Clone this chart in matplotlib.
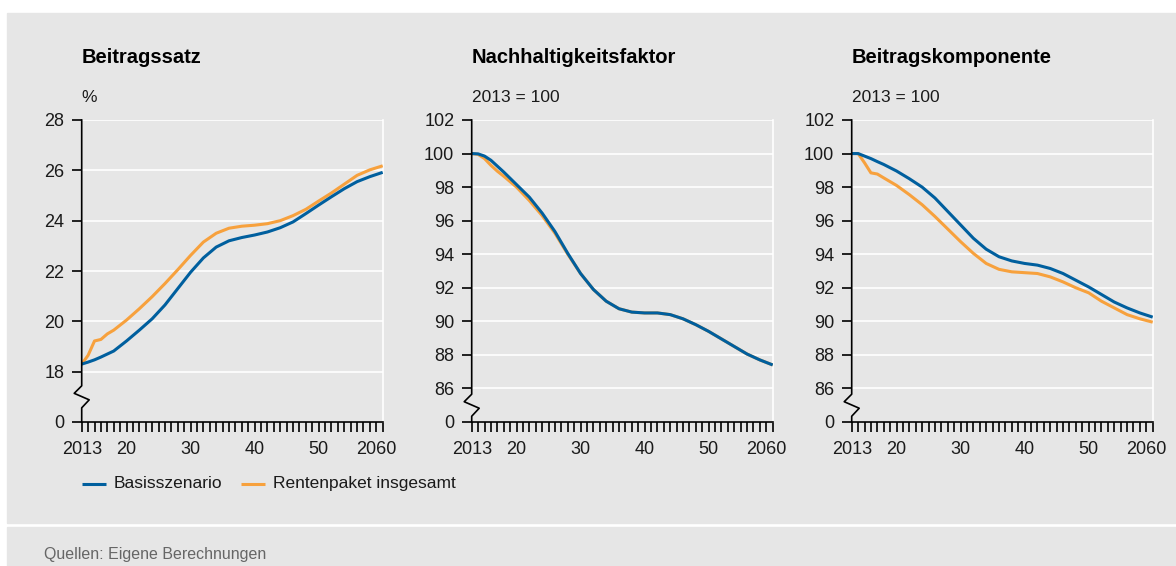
import matplotlib
matplotlib.use("Agg")
import matplotlib.pyplot as plt
from matplotlib.lines import Line2D
from matplotlib.patches import Rectangle
from matplotlib.transforms import ScaledTranslation

plt.rcParams["font.family"] = ["Liberation Sans", "DejaVu Sans"]

# --- data ---
years = [2013, 2014, 2015, 2016, 2017, 2018, 2020, 2022, 2024, 2026, 2028, 2030, 2032,
         2034, 2036, 2038, 2040, 2042, 2044, 2046, 2048, 2050, 2052, 2054, 2056, 2058, 2060]

satz_basis = [18.3, 18.38, 18.47, 18.58, 18.7, 18.82, 19.22, 19.65, 20.1, 20.65, 21.3, 21.95, 22.52,
              22.95, 23.2, 23.33, 23.43, 23.55, 23.72, 23.95, 24.28, 24.62, 24.95, 25.27, 25.55, 25.75, 25.92]
satz_paket = [18.3, 18.65, 19.22, 19.28, 19.5, 19.65, 20.05, 20.5, 20.98, 21.5, 22.05, 22.62, 23.15,
              23.5, 23.7, 23.78, 23.82, 23.88, 24.0, 24.2, 24.45, 24.78, 25.1, 25.45, 25.8, 26.02, 26.18]

nhf_basis = [100, 99.98, 99.85, 99.6, 99.25, 98.9, 98.15, 97.4, 96.45, 95.35, 94.05, 92.85, 91.9,
             91.2, 90.75, 90.55, 90.5, 90.5, 90.4, 90.15, 89.8, 89.4, 88.95, 88.5, 88.05, 87.7, 87.4]
nhf_paket = [100, 99.95, 99.7, 99.3, 98.95, 98.65, 98.0, 97.2, 96.3, 95.25, 94.0, 92.85, 91.9,
             91.2, 90.75, 90.55, 90.5, 90.5, 90.4, 90.15, 89.8, 89.4, 88.95, 88.5, 88.05, 87.7, 87.4]

bk_basis = [100, 100, 99.85, 99.7, 99.52, 99.35, 98.96, 98.5, 98.0, 97.35, 96.55, 95.75, 94.95,
            94.3, 93.85, 93.6, 93.45, 93.35, 93.15, 92.85, 92.45, 92.05, 91.6, 91.15, 90.8, 90.5, 90.25]
bk_paket = [100, 100, 99.45, 98.85, 98.78, 98.55, 98.1, 97.55, 96.95, 96.25, 95.5, 94.75, 94.05,
            93.45, 93.1, 92.95, 92.9, 92.85, 92.65, 92.35, 92.0, 91.7, 91.2, 90.8, 90.4, 90.15, 89.95]

titles = ["Beitragssatz", "Nachhaltigkeitsfaktor", "Beitragskomponente"]
units = ["%", "2013 = 100", "2013 = 100"]
yticks_satz = [16, 18, 20, 22, 24, 26, 28]
ylabels_satz = ["0", "18", "20", "22", "24", "26", "28"]
yticks_idx = [84, 86, 88, 90, 92, 94, 96, 98, 100, 102]
ylabels_idx = ["0", "86", "88", "90", "92", "94", "96", "98", "100", "102"]
xticks = [2013, 2020, 2030, 2040, 2050, 2060]
xlabels = ["2013", "20", "30", "40", "50", "2060"]
series_names = ["Basisszenario", "Rentenpaket insgesamt"]

BLUE = "#005f9e"
ORANGE = "#f7a13d"
GRAY = "#e6e6e6"

W, H = 1176, 566
fig = plt.figure(figsize=(W / 100, H / 100), dpi=100, facecolor="white")

# background panels
fig.add_artist(Rectangle((7 / W, (H - 522.5) / H), (W - 7) / W, 509.5 / H,
                         transform=fig.transFigure, color=GRAY, zorder=-10))
fig.add_artist(Rectangle((7 / W, 0), (W - 7) / W, 39.5 / H,
                         transform=fig.transFigure, color=GRAY, zorder=-10))

panels = [
    (81.7, satz_basis, satz_paket, yticks_satz, ylabels_satz),
    (471.7, nhf_basis, nhf_paket, yticks_idx, ylabels_idx),
    (851.7, bk_basis, bk_paket, yticks_idx, ylabels_idx),
]

ax_w, ax_h = 301, 302
for i, (left, basis, paket, yt, yl) in enumerate(panels):
    ax = fig.add_axes([left / W, (H - 422) / H, ax_w / W, ax_h / H])
    ax.set_facecolor(GRAY)
    ax.plot(years, paket, color=ORANGE, lw=2.2, solid_capstyle="butt", zorder=3)
    ax.plot(years, basis, color=BLUE, lw=2.2, solid_capstyle="butt", zorder=4)
    ax.set_xlim(2013, 2060)
    ax.set_ylim(yt[0], yt[-1])
    ax.set_yticks(yt)
    ax.set_yticklabels(yl)
    ax.set_xticks(xticks)
    ax.set_xticklabels(xlabels)
    ax.set_xticks(range(2013, 2061), minor=True)
    ax.tick_params(axis="both", which="both", direction="out", length=7.5, width=1.2,
                   color="black", labelsize=13, labelcolor="#1a1a1a")
    ax.tick_params(axis="x", which="major", pad=6)
    ax.tick_params(axis="y", pad=5)
    ax.set_axisbelow(True)
    ax.grid(axis="y", color="white", lw=1.2)
    ax.spines["top"].set_visible(False)
    ax.spines["left"].set_visible(False)
    ax.spines["right"].set_color("white")
    ax.spines["right"].set_linewidth(1.2)
    ax.spines["bottom"].set_linewidth(1.2)
    # shift last x label left a little
    lab = ax.get_xticklabels()[-1]
    lab.set_transform(lab.get_transform() + ScaledTranslation(-6 / 100, 0, fig.dpi_scale_trans))

    # left axis line with break symbol
    c = (yt[1] - yt[0]) / 2 / (yt[-1] - yt[0])
    fx, fy = 1 / ax_w, 1 / ax_h
    xs = [0, 0, -7.5 * fx, 7.5 * fx, 0, 0]
    ys = [1, c + 11 * fy, c + 3.5 * fy, c - 3 * fy, c - 11 * fy, 0]
    ax.add_artist(Line2D(xs, ys, transform=ax.transAxes, color="black", lw=1.2,
                         clip_on=False, zorder=5))

    fig.text(left / W, (H - 62.7) / H, titles[i], fontsize=14.5, fontweight="bold",
             va="baseline", ha="left", color="black")
    fig.text(left / W, (H - 98) / H, units[i], fontsize=12.5, va="center", ha="left",
             color="#1a1a1a")

# legend
for (x0, x1, tx), name, col in zip([(81.7, 106.4, 113.7), (240.7, 265, 272.7)],
                                   series_names, [BLUE, ORANGE]):
    fig.add_artist(Line2D([x0 / W, x1 / W], [(H - 484) / H] * 2, transform=fig.transFigure,
                          color=col, lw=2.2, solid_capstyle="butt"))
    fig.text(tx / W, (H - 483.5) / H, name, fontsize=12.5, va="center", ha="left",
             color="#1a1a1a")

fig.text(44 / W, (H - 555) / H, "Quellen: Eigene Berechnungen", fontsize=11.5,
         va="center", ha="left", color="#666666")

fig.savefig("out.png", dpi=100, facecolor="white")
